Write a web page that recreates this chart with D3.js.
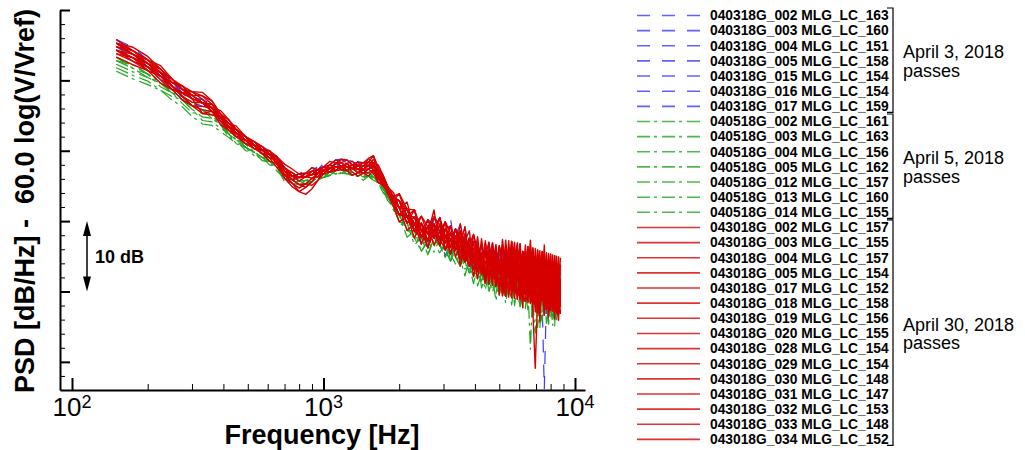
<!DOCTYPE html>
<html>
<head>
<meta charset="utf-8">
<script src="https://cdn.jsdelivr.net/npm/d3@7"></script>
<style>
  body { margin: 0; background: #fff; }
  svg { display: block; font-family: "Liberation Sans", Arial, sans-serif; }
</style>
</head>
<body>
<svg id="chart" width="1025" height="450"></svg>
<script>
// frequency bins [Hz]
const freqHz = [150,175,200,225,250,275,300,330,360,390, 420,450,490,530,570,610,650,700,750,800,
  850,900,950,1000,1060,1120,1180,1240,1300,1370, 1440,1510,1580,1650,1720,1800,1900,
  2000,2150,2300,2450,2600,2750,2900,3050,3200,3350, 3500,3650,3800,3950,4100,4250,4400,4550,4700,4850,
  5000,5150,5300,5450,5600,5750,5900,6050,6200,6350, 6500,6650,6800,6950,7100,7250,7400,7550,7700,7850,
  8000,8150,8300,8450,8600,8750];

// mean PSD of all passes (dB, arbitrary reference)
const meanPsd = [-5.7,-6.8,-8.1,-9.4,-10.8,-11.8,-12.6,-13.2,-13.9,-15.3, -16.6,-17.5,-18.5,-19.2,-19.9,-20.5,-21.3,-22.9,-23.6,-23.8,
  -23.7,-23.4,-23.2,-22.8,-22.5,-22.3,-22.2,-22.3,-22.5,-22.6, -22.7,-22.6,-22.7,-23.5,-24.4,-25.6,-27.0,
  -28.1,-29.3,-30.4,-31.3,-31.8,-31.4,-31.5,-32.1,-32.7,-33.1, -33.4,-33.8,-34.4,-34.9,-35.2,-35.5,-35.8,-36.0,-36.1,-36.3,
  -36.5,-36.6,-36.7,-36.8,-36.9,-37.0,-37.1,-37.2,-37.3,-37.4, -37.6,-37.7,-37.8,-37.9,-38.1,-38.2,-38.3,-38.4,-38.5,-38.6,
  -38.7,-38.8,-38.9,-39.0,-39.1,-39.2];

const passesApr03 = ["040318G_002 MLG_LC_163","040318G_003 MLG_LC_160","040318G_004 MLG_LC_151","040318G_005 MLG_LC_158",
  "040318G_015 MLG_LC_154","040318G_016 MLG_LC_154","040318G_017 MLG_LC_159"];
const passesApr05 = ["040518G_002 MLG_LC_161","040518G_003 MLG_LC_163","040518G_004 MLG_LC_156","040518G_005 MLG_LC_162",
  "040518G_012 MLG_LC_157","040518G_013 MLG_LC_160","040518G_014 MLG_LC_155"];
const passesApr30 = ["043018G_002 MLG_LC_157","043018G_003 MLG_LC_155","043018G_004 MLG_LC_157","043018G_005 MLG_LC_154",
  "043018G_017 MLG_LC_152","043018G_018 MLG_LC_158","043018G_019 MLG_LC_156","043018G_020 MLG_LC_155",
  "043018G_028 MLG_LC_154","043018G_029 MLG_LC_154","043018G_030 MLG_LC_148","043018G_031 MLG_LC_147",
  "043018G_032 MLG_LC_153","043018G_033 MLG_LC_148","043018G_034 MLG_LC_152"];

// per-pass deviation from meanPsd (dB), one value per frequency bin
const devApr03 = [
  [1,1,0.5,0,0,-0.5,0,0.5,0,0, 0,0.5,0,-0.5,0,0,0.5,0.5,0,0.5, 1,0.5,0,0.5,1,0.5,0,0.5,1,0.5, 0,-0.5,0,0.5,0,0.5,0,
   0,1,-1,2,0,1,-2,1,3,-1, 2,-2,0,3,-1,1,-3,2,0,-2, 3,-1,1,-3,2,-2,4,0,-2,1, 3,-3,1,-1,2,-4,0,2,-3,1, -2,3,-1,0,2,-2],
  [1.5,1,1,0.5,0,0,0.5,0,-0.5,0.5, 0.5,0,-0.5,0,0.5,0,0,1,0.5,0, 0.5,1,0.5,0,0.5,1,1,0.5,0,1, 0.5,0,0.5,0,-0.5,0,0.5,
   1,-1,0,1,-2,2,0,-1,2,0, -1,2,-3,1,0,2,-2,3,-1,1, -2,2,-1,3,-3,1,0,-2,3,-1, 1,-2,2,-3,3,-1,-2,1,-4,2, 0,-3,2,-1,1,0],
  [0.5,0.5,0,0,-0.5,-1,0,0,0.5,-0.5, -0.5,0,0.5,0,-0.5,0.5,0,0,-0.5,0, 0,0.5,1,0.5,0,0,0.5,1,0.5,0, 0.5,1,0,-0.5,0,0,-0.5,
   -1,0,2,-2,1,0,1,-3,0,2, -2,1,0,-2,2,-1,3,-2,1,-3, 1,0,-2,2,-3,3,-1,1,-4,2, -1,3,-2,0,-5,1,-3,-15.5,-2,0, 2,-3,1,-1,-4,1],
  [1,0.5,0,0.5,0.5,0,-0.5,-0.5,0,0, 0,-0.5,-0.5,0,0,-0.5,0,0.5,0,-0.5, 0,0,0.5,1,0.5,0,-0.5,0,0.5,1, 0,0.5,-0.5,0,0.5,-0.5,0,
   0,-1,1,-2,2,1,-1,0,-2,1, 3,-1,2,-2,-1,1,-3,0,2,-1, 0,-3,2,1,-2,3,-2,0,1,-3, 2,-1,-4,2,0,-2,3,-3,-1,-6, 1,-2,2,-4,0,-1],
  [0,0,-0.5,0,-0.5,0,0.5,0,-0.5,-1, -0.5,0,0,0.5,0,0,-0.5,0,0.5,0, 0.5,0,0,0.5,0,-0.5,0,0,0.5,0, -0.5,0,0.5,1,0.5,0,0.5,
   1,0,-1,0,2,-1,2,-2,1,0, -1,3,0,-2,1,-3,1,2,-2,3, -1,2,-3,0,2,-1,3,-2,-1,2, -3,1,0,-2,2,-3,1,-4,3,-2, 1,-1,3,-3,-1,2],
  [1.5,1.5,1,0.5,0.5,0,0,0.5,0.5,0, 0,0.5,0.5,0,0,0.5,0.5,0,-0.5,0, 0,0.5,0,-0.5,0.5,1,0.5,1,1,0.5, 0,0,0.5,0,0.5,0,0,
   0,1,-1,1,0,-2,1,0,-1,2, -2,0,2,1,-2,2,-1,-3,2,0, 2,-2,1,-1,3,-3,0,2,-2,-1, 4,-2,-1,1,-3,2,-2,0,-5,1, -2,2,0,-3,1,-1],
  [0.5,0,0,-0.5,0,0.5,0.5,0,0,0.5, 0,-0.5,0,0,0.5,0.5,0,-0.5,0,0.5, 0.5,0,0.5,0,-0.5,0.5,1,0.5,0,0.5, 1,0.5,0,-0.5,0,0.5,-0.5,
   0,0,1,-1,0,2,-1,1,-2,0, 1,-2,2,0,-2,1,2,-1,-2,1, -1,1,-2,3,0,-3,2,-1,1,-2, 3,-2,0,-3,1,0,-4,2,-2,3, -3,0,1,-2,2,-3]
];
const devApr05 = [
  [-2,-2,-1.5,-1,-1,-1.5,-2,-1.5,-1,-1, -1,-1,-1.5,-1,-0.5,-1,-1,-0.5,-0.5,-1, -1,-0.5,-1,-0.5,-1,-0.5,0,-0.5,-0.5,-1, -1,-0.5,-1,-1,-0.5,-1,-1,
   -1,-2,0,-1,-3,-1,-2,0,-3,-1, -2,-4,-1,-2,0,-3,-1,-4,-2,0, -3,-1,-5,-2,-1,-4,0,-2,-5,-1, -3,-2,-6,-1,-4,-2,0,-5,-3,-1, -4,-2,-6,-1,-3,-2],
  [-2.5,-2.5,-2,-2,-1.5,-1,-1.5,-2.5,-2,-1.5, -1,-1.5,-1,-1,-1,-1.5,-1,-0.5,-1,-1, -0.5,-1,-0.5,-1,-0.5,-1,-1,-0.5,-1,-0.5, -1,-1,-1.5,-1,-1.5,-1,-1,
   -2,-1,-2,-3,-1,-2,-3,-1,-2,-3, -1,-3,-2,-1,-4,-2,-3,0,-4,-2, -1,-4,-2,-3,-1,-5,-2,-3,-1,-4, -2,-10.5,-1,-3,-5,-2,-4,-1,-6,-2, -3,-1,-5,-2,-4,-1],
  [-1,-1,-1,-0.5,-1,-0.5,-0.5,-1,-1,-1, -1.5,-1,-0.5,-1,-1.5,-1,-0.5,0,-0.5,-0.5, -1,-1,-0.5,-0.5,0,-0.5,-0.5,-1,-0.5,0, -0.5,-1,-1.5,-1,-0.5,-1,-1.5,
   -1,-3,-1,0,-2,-2,-1,-3,-1,-2, -3,0,-2,-3,-1,-2,-4,-1,-3,-2, 0,-3,-2,-4,-1,-2,-3,-5,-1,-2, -4,-1,-3,-2,-7,-3,-1,-2,-4,-6, -1,-3,-2,-5,-2,-3],
  [-1.5,-1.5,-1,-1,-0.5,-1,-1,-1,-1.5,-1, -0.5,-1,-1,-1.5,-1,-0.5,-1,-1,-1,-1.5, -1,-0.5,-0.5,-1,-1,-0.5,-1,-1,-0.5,-1, -1.5,-1,-1,-0.5,-1,-1,-0.5,
   -2,-1,-3,-1,-2,0,-2,-2,-3,0, -2,-1,-3,-2,0,-4,-2,-1,-3,-1, -4,-2,-1,-3,-2,-4,-1,-3,-2,-5, -1,-3,-4,-8,-2,-1,-3,-5,-2,-3, -2,-5,-1,-3,-2,-4],
  [-3,-3,-2.5,-2,-2,-2,-2.5,-3,-2.5,-2, -1.5,-1.5,-1,-1,-1.5,-1,-1,-1,-0.5,-1, -1,-1,-0.5,-1,-1,-0.5,-0.5,-1,-1,-0.5, -1,-1.5,-1,-1,-1,-1.5,-1,
   -1,-2,-2,-1,-3,-1,-2,-3,0,-2, -3,-1,-2,-4,-1,-2,-3,-1,-2,-5, -2,-1,-3,-2,-4,-1,-2,-5,-3,-1, -3,-2,-5,-1,-3,-7,-2,-4,-1,-3, -5,-2,-3,-1,-4,-2],
  [-1,-1.5,-1.5,-1,-1,-0.5,-1,-1,-0.5,-0.5, -1,-1,-0.5,-1,-1,-1,-1.5,-1,-1,-0.5, -0.5,-0.5,-1,-1,-0.5,-1,-1,-0.5,-1,-1, -0.5,-0.5,-1,-1,-1.5,-1,-1,
   -2,-2,-1,-2,-1,-3,-1,-2,-2,-1, 0,-2,-3,-1,-3,-2,-1,-3,-2,-4, -1,-3,-2,-1,-5,-2,-3,-1,-4,-2, -3,-1,-5,-3,-2,-4,-6,-2,-3,-1, -3,-6,-2,-4,-1,-3],
  [-1.5,-1,-1,-1.5,-1,-1,-1.5,-2,-1.5,-1, -1,-0.5,-1,-1,-0.5,-1,-1,-1.5,-1,-1, -1,-0.5,-0.5,-1,-1,-1,-0.5,-0.5,-1,-1, -1,-1,-0.5,-1,-1,-0.5,-1,
   -1,-2,-1,-3,-1,-2,-1,-2,-3,-1, -2,-2,-3,-1,-2,-3,-1,-4,-2,-1, -3,-2,-4,-1,-2,-3,-1,-4,-2,-3, -5,-2,-1,-3,-4,-2,-5,-3,-1,-4, -2,-3,-5,-2,-3,-1]
];
const devApr30 = [
  [1,1,0.5,0.5,1,0.5,0,0,0.5,0.5, 0,0,0.5,0.5,0,0,0.5,0,-0.5,0, 0,0.5,0.5,0,0,0.5,0.5,0,0.5,1, 1,1.5,1,0.5,0.5,0,0,
   1,0,2,-1,1,2,0,1,-1,2, 0,3,-1,1,2,-2,3,0,-1,2, 1,-3,4,0,3,-1,1,4,-3,3, 0,5,-1,3,-4,1,4,-1,3,0, 4,-3,1,3,-1,4],
  [0,0,0,0.5,0,-0.5,-1,-1.5,-0.5,0, 0,-0.5,0,0,0.5,0,-0.5,-0.5,0,0, 0,0,0,-0.5,0,0,-0.5,0,0,-0.5, 0,0.5,1,0,0,-0.5,0,
   0,-1,1,0,-2,1,-1,2,-1,0, 2,-2,1,-1,3,-2,0,1,-3,2, -1,1,-4,3,0,-3,3,-1,-4,1, 4,-3,0,-1,3,-4,1,-3,0,-5, 3,-1,-4,1,0,-3],
  [0.5,1,1,0.5,0,0,1,1.5,1,0.5, 0.5,0,0,-0.5,0,0.5,0,0,0,-0.5, 0,0,0.5,0.5,0,-0.5,0,0.5,0,0.5, 0.5,1,2,1,0.5,0.5,0,
   2,0,1,-1,2,0,-2,1,2,-1, 1,0,-2,3,1,-1,2,-2,0,3, -1,3,0,-3,4,1,-1,3,-4,0, 3,-3,4,0,-4,3,-1,5,-3,1, -1,3,0,-4,3,-1],
  [-0.5,-0.5,0,0,-0.5,0,0,0,-0.5,-1, -0.5,0,0,0,-0.5,-0.5,0,-0.5,-1,-2, -2.5,-2,-1,0,0,-0.5,-0.5,0,0,0, -0.5,0,0.5,0,-0.5,0,0,
   -1,0,-2,1,-1,0,2,-2,0,1, -3,1,0,-2,1,-1,-3,2,-2,0, 1,-4,3,-1,-3,3,-4,0,1,-3, -1,3,-5,-13,-3,-4,1,0,-3,3, -4,0,1,-3,-1,1],
  [1.5,1,1,1,0.5,0.5,0.5,0,0,0.5, 1,0.5,0.5,0.5,0,0,0,0.5,0,0, 0.5,0,0,0,0.5,0,0,-0.5,0,0.5, 0,0.5,1.5,1,0,0,0.5,
   0,2,-1,1,0,3,-2,1,0,2, -1,1,3,-1,0,2,-2,1,3,-1, 3,0,-3,4,-1,3,0,-4,3,1, -3,4,0,-3,3,-1,4,-3,1,-4, 3,1,-3,4,-1,0],
  [0,-0.5,-0.5,0,0.5,1,0.5,0,0,-0.5, -0.5,-0.5,0,0.5,0.5,0,-0.5,-1,-1,-1.5, -1,-0.5,-0.5,0,-0.5,0,0,-0.5,-1,-0.5, 0,0,0.5,-0.5,-0.5,0,-0.5,
   -1,1,0,-2,1,-1,0,2,-2,1, -1,-2,2,0,-3,1,-1,0,2,-2, 0,-1,3,-4,1,-3,0,4,-3,-1, 1,-4,3,-3,0,-6,1,-1,-4,3, 0,-3,4,-4,1,-3],
  [1,0.5,0.5,1,1,1,0,-1.5,-1,0, 0,0.5,0.5,0,0,0.5,0.5,0.5,0,0, 0.5,1,0.5,0.5,0,0.5,0.5,1,0.5,0, 0,1,1,0.5,0,0.5,0.5,
   1,1,-1,2,1,0,2,-1,1,0, 2,-1,1,3,0,-2,2,1,-1,2, -3,3,1,-1,4,-3,1,3,-1,4, -1,1,4,-3,3,0,-3,4,1,-1, 3,-3,4,0,-1,3],
  [-0.5,0,0,-0.5,-0.5,-1,-1,-0.5,0,0, -0.5,-0.5,-0.5,0,0,-0.5,-1,-0.5,-0.5,-1, -1.5,-1,0,-0.5,-0.5,0,-0.5,-0.5,0,0, -0.5,-0.5,0,-0.5,0,-0.5,-1,
   -2,0,-1,1,-2,0,-1,-2,1,-1, 0,-2,1,-3,0,-1,2,-3,1,-1, -3,0,-4,1,-1,-3,3,-4,0,-3, 1,-4,-1,0,-5,-3,0,-4,3,-5, -1,1,-5,0,-3,-4],
  [0,0.5,1,1.5,1,0.5,0.5,1,1,0.5, 0,0,0,0.5,0.5,0,0,0,0.5,0, 0,0,0,0.5,0.5,1,0.5,0,0.5,0.5, 0,0,1,0.5,1,0.5,0,
   1,-1,2,0,-1,2,1,-1,2,0, -2,2,0,1,-2,3,-1,0,2,-3, 3,1,-3,0,4,-1,3,-3,1,0, -4,3,1,-3,4,-1,0,3,-4,1, 4,-1,-3,3,1,-4],
  [0,0,-0.5,-1,-0.5,0,0,0,-0.5,-0.5, 0,0,-0.5,-0.5,0,0,0,0,-0.5,-1, -1,-1.5,-1,-0.5,0,0,0,0.5,0,-0.5, -0.5,-1,0,0,-0.5,0,0,
   0,-2,0,1,-1,1,-1,0,-2,1, 1,-1,-2,2,-1,0,-3,2,-1,1, -4,1,0,-3,1,-4,1,0,-5,3, 0,-3,1,-5,1,-3,-1,1,-4,0, -3,3,-1,-4,1,-3],
  [1,1.5,1.5,1,0.5,0.5,1,1,0.5,0.5, 0.5,0.5,0.5,0,-0.5,0,0.5,0.5,0.5,0, 0,0,0.5,0.5,1,0.5,0,0,0.5,0.5, 1,1,0.5,0,0,0,0.5,
   2,1,0,2,0,1,-1,2,1,0, 2,1,-1,2,2,0,1,3,-1,2, 0,3,-1,3,1,4,-1,1,3,-3, 4,0,3,-1,1,4,-3,3,0,4, -1,3,1,-3,4,0],
  [-1,-1,-0.5,0,0,-0.5,-1,-1,-0.5,0, -0.5,-0.5,0,0,-0.5,-1,-0.5,0,0,0.5, 0,-0.5,0,0,-0.5,-0.5,0,0,-0.5,-1, -0.5,0,-0.5,-1,-0.5,0,-0.5,
   -1,0,-1,-1,1,-2,0,-1,1,-2, 0,-1,-2,0,-2,1,-3,0,-1,-2, 1,-4,-1,0,-3,-1,-4,1,-3,-4, 0,-3,-4,1,-5,0,-3,-1,-4,-3, 0,-4,-1,-3,-5,0],
  [0.5,0.5,0,0,0.5,1,1,0.5,0,0, 0.5,1,0.5,0,0,0.5,0,0,0,0.5, 0.5,0.5,0,0,-0.5,-0.5,0,0.5,1,0.5, 0.5,0.5,1,1.5,1,0.5,0,
   0,1,0,-1,2,-1,1,0,-1,2, 1,-2,1,0,2,-1,0,-2,3,-1, 1,0,-1,3,-3,1,4,-3,0,3, -1,0,-3,4,-1,1,3,-4,0,1, -3,4,-1,1,-1,3],
  [0,0,0.5,0.5,0,-0.5,-0.5,0,0.5,0, 0,0,0,-0.5,-0.5,0,0,-1,-1.5,-2, -1.5,-1,0,0,0.5,0,-0.5,-0.5,0,0, 0,0.5,0,-1,-0.5,0,-0.5,
   -1,1,-1,0,0,-1,1,-2,0,-1, 1,-1,0,-2,1,-1,-2,1,0,-3, 1,-1,-3,0,-4,1,-1,-3,3,-4, -3,1,-4,-3,0,-4,-1,-5,1,-3, -4,0,-3,1,-4,-1],
  [1,0.5,0.5,0,0,0,0.5,0,0,1, 1,0.5,0,0,0,0,0.5,1,1,0.5, 0.5,0,0,0.5,0,0.5,1,1,0.5,0, 0.5,1.5,2,1,1,0.5,1,
   0,1,2,0,1,-1,2,0,1,-1, 3,0,1,-1,2,0,1,-2,2,1, -1,4,0,1,-3,3,0,1,-1,3, -3,3,0,-1,4,0,1,-3,4,-1, 1,-1,3,0,-1,1]
];

const xTickValues = [100, 1000, 10000];
const xTickExponents = ["2", "3", "4"];
const yMajorTicks = [-50, -40, -30, -20, -10, 0];

const groups = [
  {names: passesApr03, dev: devApr03, color: "#3a3aff", width: 1.2, dash: "13,12", label: ["April 3, 2018", "passes"]},
  {names: passesApr05, dev: devApr05, color: "#1fa81f", width: 1.2, dash: "13,4,3,5", label: ["April 5, 2018", "passes"]},
  {names: passesApr30, dev: devApr30, color: "#d60000", width: 1.4, dash: null, label: ["April 30, 2018", "passes"]}
];

const svg = d3.select("#chart");
const plot = {left: 60, right: 585, top: 10, bottom: 390};

const x = d3.scaleLog().domain([89.6, 10960]).range([plot.left, plot.right]);
const y = d3.scaleLinear().domain([-54, 0]).range([plot.bottom, plot.top]);

svg.append("rect").attr("width", 1025).attr("height", 450).attr("fill", "#fff");

svg.append("clipPath").attr("id", "clip")
  .append("rect")
  .attr("x", plot.left).attr("y", plot.top)
  .attr("width", plot.right - plot.left).attr("height", plot.bottom - plot.top);

const line = d3.line()
  .x(d => x(d[0]))
  .y(d => y(d[1]));

const curves = svg.append("g").attr("clip-path", "url(#clip)");
groups.forEach(g => {
  g.dev.forEach(dev => {
    const pts = freqHz.map((f, i) => [f, meanPsd[i] + dev[i]]).filter(d => !isNaN(d[1]));
    curves.append("path")
      .datum(pts)
      .attr("d", line)
      .attr("fill", "none")
      .attr("stroke", g.color)
      .attr("stroke-width", g.width)
      .attr("stroke-linejoin", "round")
      .attr("stroke-dasharray", g.dash);
  });
});

// axes
const yMinor = d3.range(-52, 0, 2).filter(v => v % 10 !== 0);
const xMinor = [];
[100, 1000].forEach(dec => d3.range(2, 10).forEach(k => xMinor.push(k * dec)));

svg.append("g")
  .attr("transform", `translate(${plot.left},0)`)
  .call(d3.axisLeft(y).tickValues(yMinor).tickSize(-5).tickSizeOuter(0).tickFormat(""))
  .call(g => g.select(".domain").remove())
  .call(g => g.selectAll("line").attr("stroke-width", 1));

svg.append("g")
  .attr("transform", `translate(${plot.left},0)`)
  .call(d3.axisLeft(y).tickValues(yMajorTicks).tickSize(-10).tickSizeOuter(0).tickFormat(""))
  .call(g => g.select(".domain").attr("stroke-width", 2))
  .call(g => g.selectAll("line").attr("stroke-width", 2));

svg.append("g")
  .attr("transform", `translate(0,${plot.bottom})`)
  .call(d3.axisBottom(x).tickValues(xMinor).tickSize(-6).tickSizeOuter(0).tickFormat(""))
  .call(g => g.select(".domain").remove())
  .call(g => g.selectAll("line").attr("stroke-width", 1));

svg.append("g")
  .attr("transform", `translate(0,${plot.bottom})`)
  .call(d3.axisBottom(x).tickValues(xTickValues).tickSize(-12).tickSizeOuter(0).tickFormat(""))
  .call(g => g.select(".domain").attr("stroke-width", 2))
  .call(g => g.selectAll("line").attr("stroke-width", 2));

// x tick labels 10^n
xTickValues.forEach((v, i) => {
  const t = svg.append("text")
    .attr("x", x(v)).attr("y", 416)
    .attr("text-anchor", "middle")
    .attr("font-size", 26);
  t.append("tspan").text("10");
  t.append("tspan").attr("font-size", 18).attr("dy", -8).text(xTickExponents[i]);
});

svg.append("text")
  .attr("x", 322).attr("y", 444)
  .attr("text-anchor", "middle")
  .attr("font-size", 27).attr("font-weight", "bold")
  .text("Frequency [Hz]");

svg.append("text")
  .attr("transform", "translate(34,201) rotate(-90)")
  .attr("text-anchor", "middle")
  .attr("font-size", 27).attr("font-weight", "bold")
  .style("white-space", "pre")
  .text("PSD [dB/Hz] -  60.0 log(V/Vref)");

// 10 dB scale arrow
const arrowX = 87;
const aTop = y(-30), aBot = y(-40);
svg.append("line")
  .attr("x1", arrowX).attr("x2", arrowX)
  .attr("y1", aTop + 10).attr("y2", aBot - 10)
  .attr("stroke", "#000").attr("stroke-width", 1.5);
svg.append("path")
  .attr("d", `M${arrowX},${aTop}L${arrowX - 4},${aTop + 15}L${arrowX + 4},${aTop + 15}Z`
    + `M${arrowX},${aBot}L${arrowX - 4},${aBot - 15}L${arrowX + 4},${aBot - 15}Z`)
  .attr("fill", "#000");
svg.append("text")
  .attr("x", 95).attr("y", (aTop + aBot) / 2 + 7)
  .attr("font-size", 18).attr("font-weight", "bold")
  .text("10 dB");

// legend
const rowY = i => 15.5 + i * 15.14;
const legend = svg.append("g");
let row = 0;
groups.forEach(g => {
  const first = row;
  g.names.forEach(name => {
    const yy = rowY(row);
    legend.append("line")
      .attr("x1", 637).attr("x2", 700)
      .attr("y1", yy).attr("y2", yy)
      .attr("stroke", g.color).attr("stroke-width", 1.6)
      .attr("stroke-opacity", 0.8)
      .attr("stroke-dasharray", g.dash);
    legend.append("text")
      .attr("x", 710).attr("y", yy)
      .attr("dy", "0.35em")
      .attr("font-size", 13.8).attr("font-weight", "bold")
      .text(name);
    row++;
  });
  const last = row - 1;
  const top = rowY(first) - 7.5, bot = rowY(last) + 6;
  legend.append("path")
    .attr("d", `M887,${top}H893V${bot}H887`)
    .attr("fill", "none").attr("stroke", "#000").attr("stroke-width", 1.2);
  const mid = (top + bot) / 2;
  g.label.forEach((s, k) => {
    legend.append("text")
      .attr("x", 903).attr("y", mid - 2 + k * 18.5)
      .attr("font-size", 18)
      .text(s);
  });
});
</script>
</body>
</html>
